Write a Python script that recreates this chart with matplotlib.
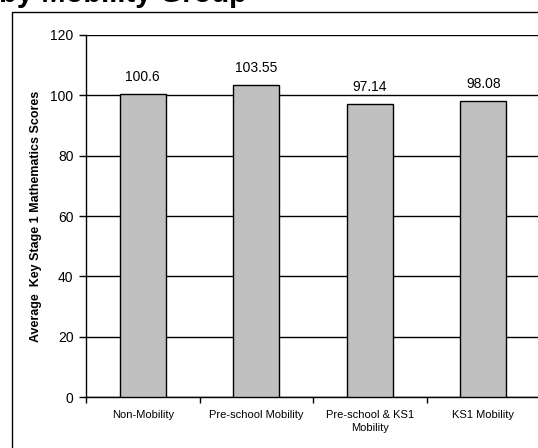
import matplotlib
matplotlib.use("Agg")
import matplotlib.pyplot as plt
from matplotlib.patches import Rectangle
import numpy as np

plt.rcParams['font.family'] = ['Liberation Sans', 'DejaVu Sans']

categories = ["Non-Mobility", "Pre-school Mobility", "Pre-school & KS1\nMobility", "KS1 Mobility"]
values = [100.6, 103.55, 97.14, 98.08]
value_labels = ["100.6", "103.55", "97.14", "98.08"]
yticks = [0, 20, 40, 60, 80, 100, 120]
ylabel = "Average  Key Stage 1 Mathematics Scores"
title = "Scores by Mobility Group"

W, H = 538, 448
fig = plt.figure(figsize=(W / 100, H / 100), dpi=100)
fig.patch.set_facecolor("white")

# outer chart-area frame
fig.patches.append(Rectangle((12 / W, -0.1), 1.2, 1 - 12 / H + 0.1,
                             transform=fig.transFigure, fill=False,
                             edgecolor="black", linewidth=1.0, zorder=0))

# cropped title
fig.text(247 / W, 1 - 1.5 / H, title, ha="right", va="baseline",
         fontsize=21, fontweight="bold")

left, right = 86 / W, 540 / W
bottom, top = 1 - 397 / H, 1 - 35 / H
ax = fig.add_axes([left, bottom, right - left, top - bottom])

x = np.arange(len(categories))
bars = ax.bar(x, values, width=0.405, color="#c0c0c0", edgecolor="black",
              linewidth=1.0, zorder=3)

for xi, v, lab in zip(x, values, value_labels):
    ax.annotate(lab, (xi, v), xytext=(0, 7), textcoords="offset points",
                ha="center", va="bottom", fontsize=10)

ax.set_xlim(-0.5, len(categories) - 0.5)
ax.set_ylim(0, 120)
ax.set_yticks(yticks)
ax.set_yticklabels([str(t) for t in yticks], fontsize=10)
ax.yaxis.grid(True, color="black", linewidth=1.0, zorder=0)
ax.set_axisbelow(True)

ax.set_xticks(x)
ax.set_xticklabels(categories, fontsize=8, linespacing=1.4)
ax.set_xticks(np.arange(len(categories) + 1) - 0.5, minor=True)
ax.tick_params(axis="x", which="major", length=0, pad=9)
ax.tick_params(axis="x", which="minor", length=4, width=1, direction="out")
ax.tick_params(axis="y", length=5, width=1, direction="out", pad=4)

ax.spines["top"].set_visible(False)
ax.spines["right"].set_visible(False)
for s in ("left", "bottom"):
    ax.spines[s].set_linewidth(1.0)

ax.set_ylabel(ylabel, fontsize=9, fontweight="bold", labelpad=6)

fig.savefig("out.png", dpi=100)
